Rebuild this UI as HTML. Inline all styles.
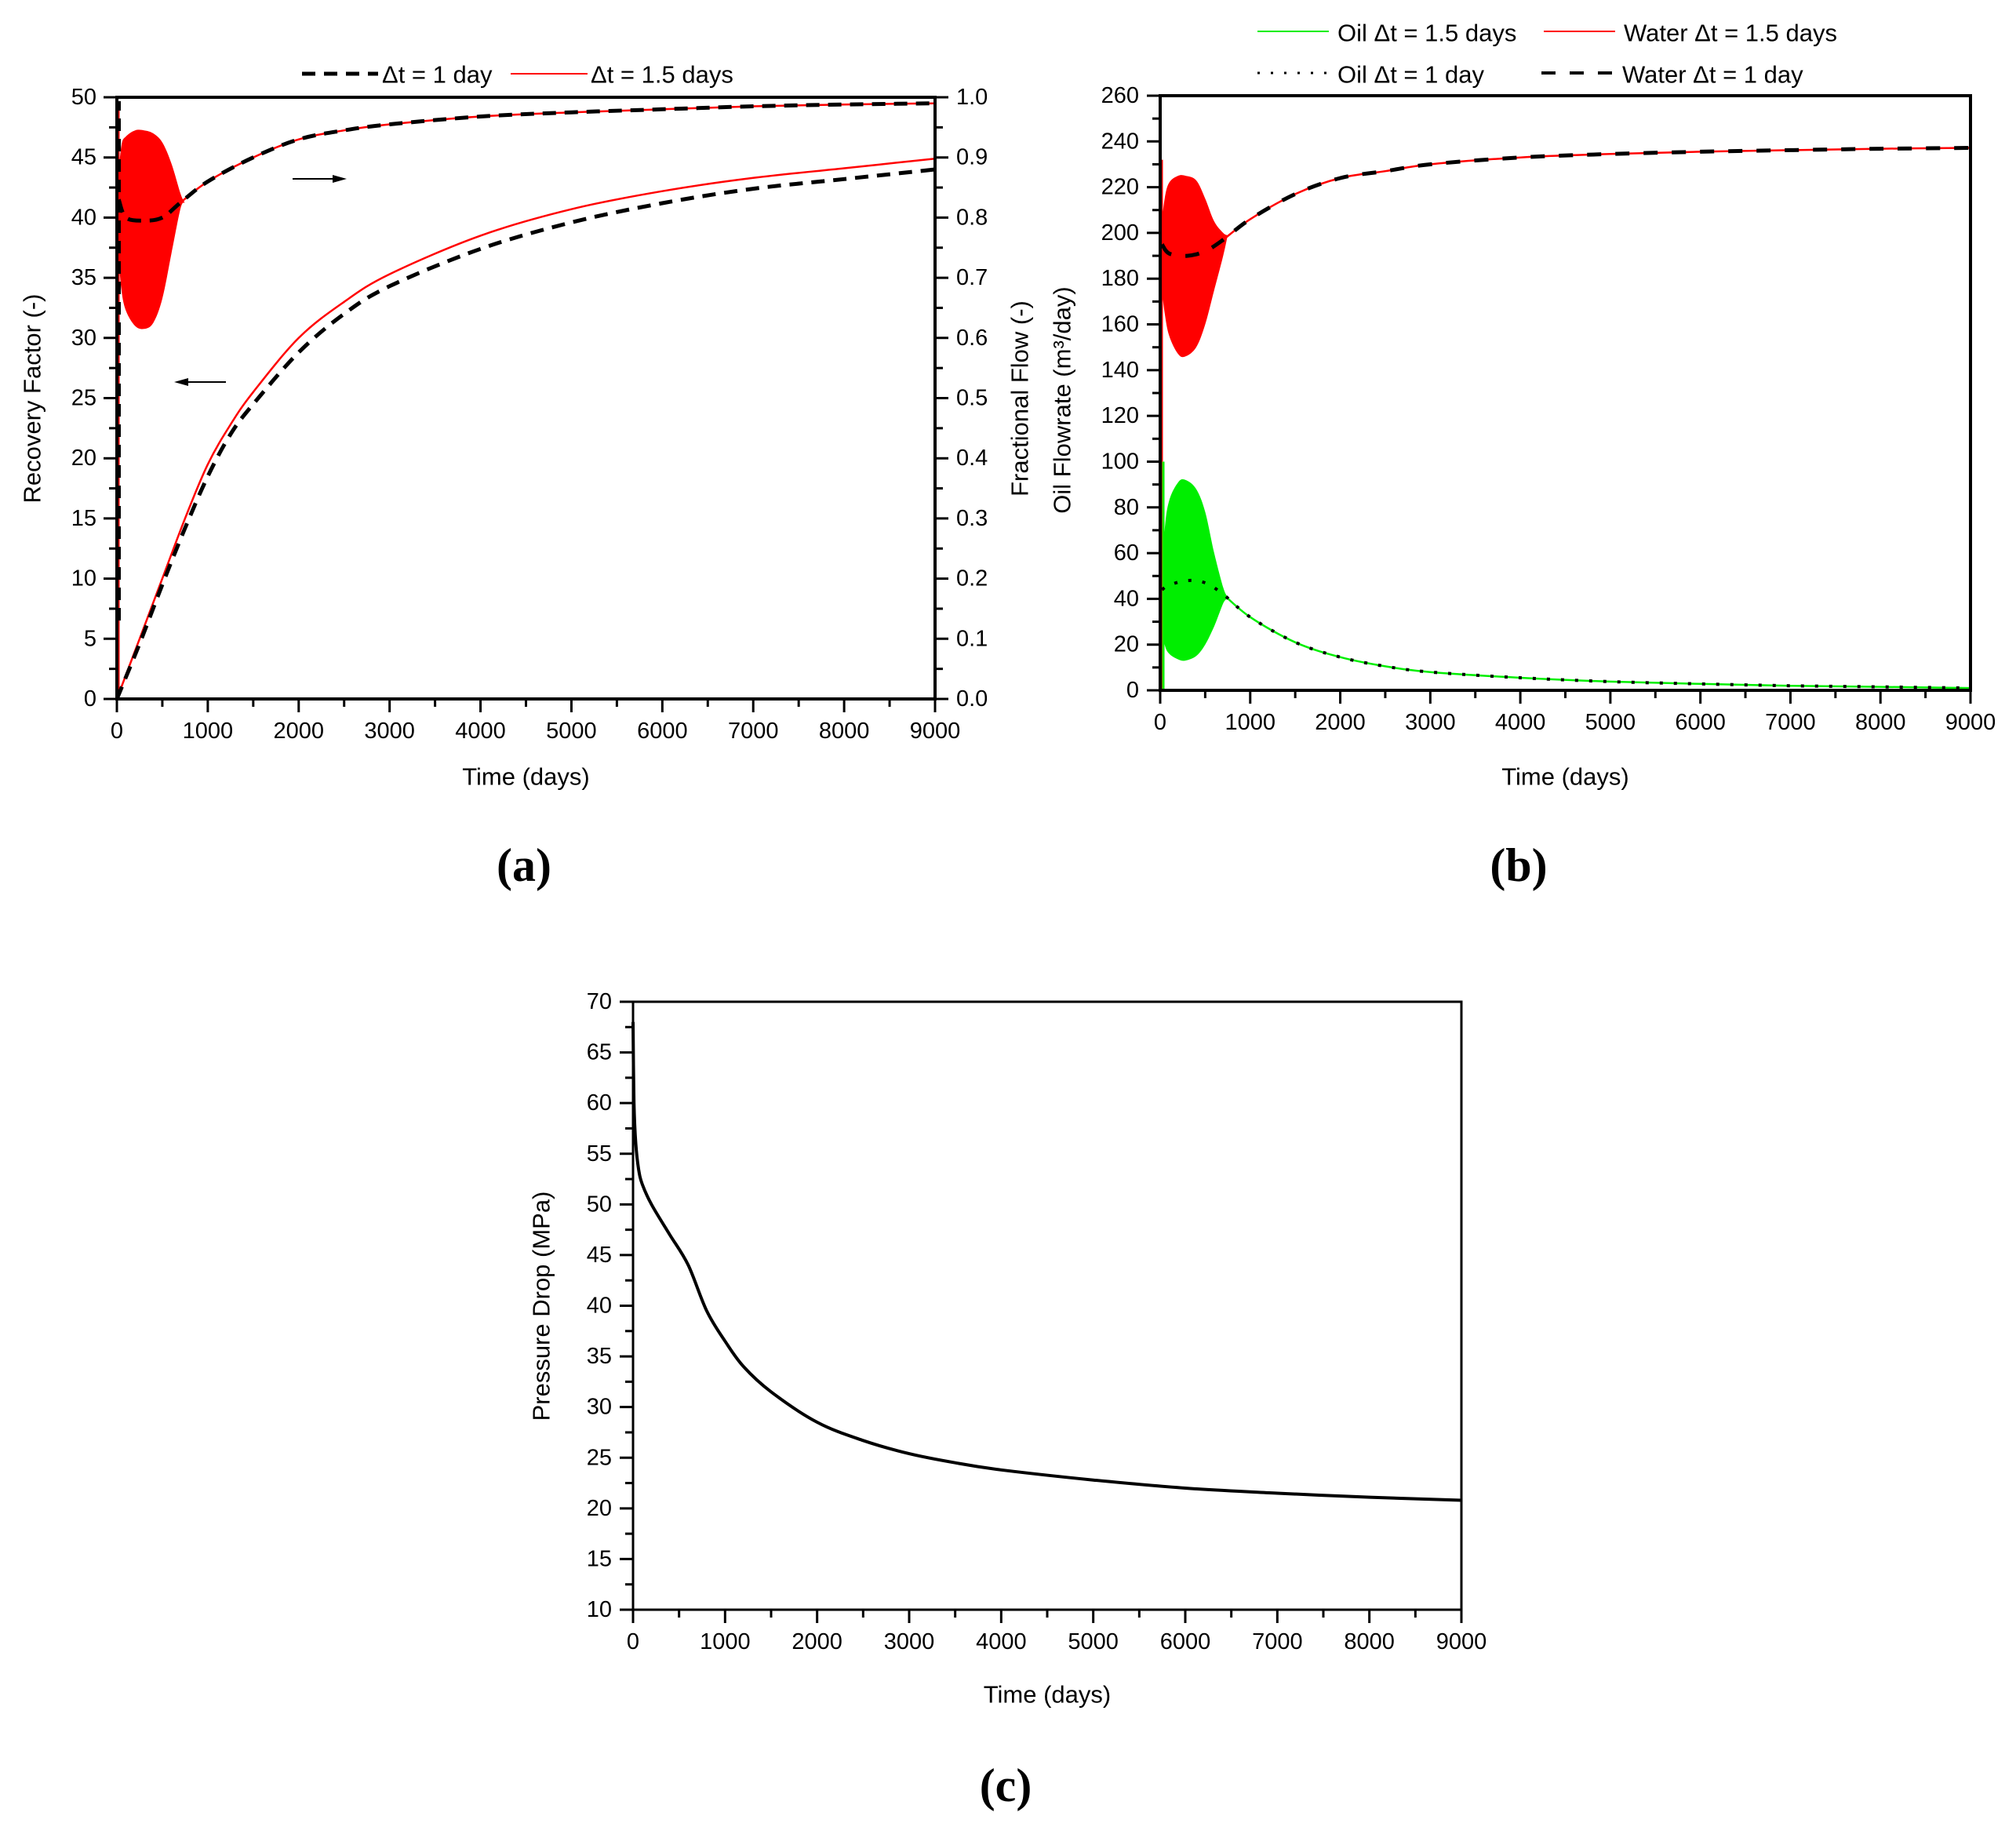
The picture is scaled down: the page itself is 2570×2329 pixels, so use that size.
<!DOCTYPE html>
<html><head><meta charset="utf-8"><style>
html,body{margin:0;padding:0;background:#fff}
svg{display:block}
text{font-family:"Liberation Sans",sans-serif;fill:#000}
text.plabel{font-family:"Liberation Serif",serif;font-weight:bold}
</style></head><body>
<svg id="fig" width="2570" height="2329" viewBox="0 0 2570 2329" xmlns="http://www.w3.org/2000/svg"></svg>
<script>
// ---------- Data ----------
const timeTicks=[0,1000,2000,3000,4000,5000,6000,7000,8000,9000];
// (a) recovery factor
const rfT=[0,250,500,750,1000,1250,1500,2000,2500,3000,4000,5000,6000,7000,8000,9000];
const rfRed=[0,5,10,15,19.5,22.8,25.5,30,33,35.3,38.5,40.7,42.2,43.3,44.1,44.9];
const rfBlack=[0,4.6,9.5,14.2,18.5,22,24.5,28.8,32,34.3,37.4,39.6,41.2,42.4,43.2,44.0];
// (a) fractional flow
const ffT=[0,20,100,300,500,700,1000,1500,2000,2500,3000,4000,5000,6000,7000,8000,9000];
const ffVal=[1.0,0.83,0.80,0.795,0.80,0.825,0.86,0.90,0.93,0.945,0.955,0.968,0.975,0.98,0.985,0.988,0.99];
const ffBlobT=[10,50,100,200,300,400,500,600,700,745];
const ffBlobHi=[0.86,0.92,0.935,0.945,0.945,0.94,0.925,0.89,0.84,0.825];
const ffBlobLo=[0.75,0.68,0.645,0.62,0.615,0.625,0.665,0.74,0.815,0.825];
// (b) water & oil flowrates
const wT=[0,20,100,300,500,700,1000,1500,2000,2500,3000,4000,5000,6000,7000,8000,9000];
const wVal=[232,195,191,190,192,197,206,217,224,227,230,233,234.5,235.5,236.2,236.8,237.2];
const wBlobT=[5,50,100,200,280,400,500,600,700,745];
const wBlobHi=[200,215,222,225,225,223,215,205,200,199];
const wBlobLo=[180,165,155,147,146,150,160,175,190,198];
const oT=[0,20,100,300,500,700,1000,1500,2000,2500,3000,4000,5000,6000,7000,8000,9000];
const oVal=[100,44,46,48,47,42,32,21,14.5,10.5,8,5.5,3.8,2.8,2,1.5,1];
const oBlobT=[5,50,100,200,280,400,500,600,700,745];
const oBlobHi=[40,70,83,91,92,88,78,60,45,41];
const oBlobLo=[30,20,16,13.5,13,15,20,28,38,40];
// (c) pressure drop
const pT=[0,10,30,60,100,200,400,600,800,1000,1200,1500,2000,2500,3000,3500,4000,5000,6000,7000,8000,9000];
const pVal=[68,60,56,53.5,52,50,47,44,39.5,36.5,34,31.5,28.5,26.7,25.4,24.5,23.8,22.8,22,21.5,21.1,20.8];
const aLeftTicks=[0,5,10,15,20,25,30,35,40,45,50];
const aRightTicks=["0.0","0.1","0.2","0.3","0.4","0.5","0.6","0.7","0.8","0.9","1.0"];
const bTicks=[0,20,40,60,80,100,120,140,160,180,200,220,240,260];
const cTicks=[10,15,20,25,30,35,40,45,50,55,60,65,70];

// ---------- Helpers ----------
const NS="http://www.w3.org/2000/svg";
const svg=document.getElementById('fig');
function mk(tag,attrs,parent){const e=document.createElementNS(NS,tag);for(const k in attrs)e.setAttribute(k,attrs[k]);(parent||svg).appendChild(e);return e;}
function txt(s,x,y,size,anchor,parent,extra){const t=mk('text',Object.assign({x:x,y:y,'font-size':size,'text-anchor':anchor||'middle','dominant-baseline':'central'},extra||{}),parent);t.textContent=s;return t;}
function smooth(pts){let d='M'+pts[0][0].toFixed(1)+','+pts[0][1].toFixed(1);
 for(let i=0;i<pts.length-1;i++){const p0=pts[i-1]||pts[i],p1=pts[i],p2=pts[i+1],p3=pts[i+2]||p2;
  const c1=[p1[0]+(p2[0]-p0[0])/6,p1[1]+(p2[1]-p0[1])/6],c2=[p2[0]-(p3[0]-p1[0])/6,p2[1]-(p3[1]-p1[1])/6];
  d+=' C'+c1[0].toFixed(1)+','+c1[1].toFixed(1)+' '+c2[0].toFixed(1)+','+c2[1].toFixed(1)+' '+p2[0].toFixed(1)+','+p2[1].toFixed(1);}
 return d;}
function axes(L,R,T,B,xmax,ymin,ymax){return {x:v=>L+(v/xmax)*(R-L),y:v=>B-(v-ymin)/(ymax-ymin)*(B-T)};}
function pts(ts,vs,ax){return ts.map((t,i)=>[ax.x(t),ax.y(vs[i])]);}
function blob(ts,hi,lo,ax){const up=pts(ts,hi,ax),dn=pts(ts,lo,ax).reverse();
 return smooth(up)+' L'+dn[0][0]+','+dn[0][1]+' '+smooth(dn).slice(1)+' Z';}
function xAxis(g,ax,B,label,labelY){
 timeTicks.forEach(v=>{mk('line',{x1:ax.x(v),x2:ax.x(v),y1:B,y2:B+17,stroke:'#000','stroke-width':3},g);
  if(v<9000)mk('line',{x1:ax.x(v+500),x2:ax.x(v+500),y1:B,y2:B+10,stroke:'#000','stroke-width':3},g);
  const t=txt(String(v),ax.x(v),B+41,29,'middle',g);
  
  });
 const t=txt(label,(ax.x(0)+ax.x(9000))/2,labelY,31,'middle',g);
 }

// ================= Panel (a) =================
(function(){
 const g=mk('g',{});
 const L=149,R=1192,T=124,B=891;
 const ax=axes(L,R,T,B,9000,0,50), ff=axes(L,R,T,B,9000,0,1);
 const bl=mk('path',{d:blob(ffBlobT,ffBlobHi,ffBlobLo,ff),fill:'#ff0000',stroke:'none'},g);
 
 mk('line',{x1:ax.x(0)+2,x2:ax.x(0)+2,y1:B,y2:T+5,stroke:'#ff0000','stroke-width':3,},g);
 mk('line',{x1:ax.x(0)+3,x2:ax.x(0)+3,y1:B-100,y2:T+5,stroke:'#000','stroke-width':4,'stroke-dasharray':'16 10',},g);
 const ffRedT=ffT.filter(t=>t>=700), ffRedV=ffVal.slice(ffT.indexOf(700));
 mk('path',{d:smooth(pts(ffRedT,ffRedV,ff)),fill:'none',stroke:'#ff0000','stroke-width':2.5,},g);
 mk('path',{d:smooth(pts(ffT.slice(1),ffVal.slice(1),ff)),fill:'none',stroke:'#000','stroke-width':5,'stroke-dasharray':'17 11',},g);
 mk('path',{d:smooth(pts(rfT,rfRed,ax)),fill:'none',stroke:'#ff0000','stroke-width':2.5,},g);
 mk('path',{d:smooth(pts(rfT,rfBlack,ax)),fill:'none',stroke:'#000','stroke-width':5,'stroke-dasharray':'17 11',},g);
 mk('rect',{x:L,y:T,width:R-L,height:B-T,fill:'none',stroke:'#000','stroke-width':4,},g);
 aLeftTicks.forEach((v,i)=>{const y=ax.y(v);mk('line',{x1:L-17,x2:L,y1:y,y2:y,stroke:'#000','stroke-width':3},g);
  if(i<aLeftTicks.length-1)mk('line',{x1:L-10,x2:L,y1:ax.y(v+2.5),y2:ax.y(v+2.5),stroke:'#000','stroke-width':3},g);
  const t=txt(String(v),123,y,29,'end',g);});
 aRightTicks.forEach((s,i)=>{const y=ff.y(i/10);mk('line',{x1:R,x2:R+17,y1:y,y2:y,stroke:'#000','stroke-width':3},g);
  if(i<10)mk('line',{x1:R,x2:R+10,y1:ff.y(i/10+0.05),y2:ff.y(i/10+0.05),stroke:'#000','stroke-width':3},g);
  const t=txt(s,1219,y,29,'start',g);});
 xAxis(g,ax,B,'Time (days)',990);
 const yl=txt('Recovery Factor (-)',0,0,31,'middle',g,{transform:'translate(41,508) rotate(-90)'});
 
 const yr=txt('Fractional Flow (-)',0,0,31,'middle',g,{transform:'translate(1300,508) rotate(-90)'});
 
 mk('line',{x1:373,x2:430,y1:228,y2:228,stroke:'#000','stroke-width':2,},g);
 mk('polygon',{points:'442,228 424,223 424,233',fill:'#000'},g);
 mk('line',{x1:232,x2:288,y1:487,y2:487,stroke:'#000','stroke-width':2,},g);
 mk('polygon',{points:'222,487 240,482 240,492',fill:'#000'},g);
 const lg=mk('g',{},g);
 mk('line',{x1:385,x2:482,y1:94,y2:94,stroke:'#000','stroke-width':5,'stroke-dasharray':'17 11'},lg);
 txt('\u0394t = 1 day',487,95,31,'start',lg);
 mk('line',{x1:651,x2:749,y1:94,y2:94,stroke:'#ff0000','stroke-width':2},lg);
 txt('\u0394t = 1.5 days',753,95,31,'start',lg);
 const pl=txt('(a)',668,1103,60,'middle',svg,{'class':'plabel'});
 
})();

// ================= Panel (b) =================
(function(){
 const g=mk('g',{});
 const L=1479,R=2512,T=122,B=880;
 const ax=axes(L,R,T,B,9000,0,260);
 const b1=mk('path',{d:blob(wBlobT,wBlobHi,wBlobLo,ax),fill:'#ff0000'},g);
 
 const b2=mk('path',{d:blob(oBlobT,oBlobHi,oBlobLo,ax),fill:'#00ee00'},g);
 
 mk('line',{x1:L+2,x2:L+2,y1:ax.y(0),y2:ax.y(232),stroke:'#ff0000','stroke-width':3},g);
 mk('line',{x1:L+4,x2:L+4,y1:ax.y(0),y2:ax.y(100),stroke:'#00ee00','stroke-width':3},g);
 const i7=wT.indexOf(700);
 mk('path',{d:smooth(pts(wT.slice(i7),wVal.slice(i7),ax)),fill:'none',stroke:'#ff0000','stroke-width':2.5,},g);
 mk('path',{d:smooth(pts(oT.slice(i7),oVal.slice(i7),ax)),fill:'none',stroke:'#00ee00','stroke-width':2.5,},g);
 mk('path',{d:smooth(pts(wT.slice(1),wVal.slice(1),ax)),fill:'none',stroke:'#000','stroke-width':5,'stroke-dasharray':'18 18',},g);
 mk('path',{d:smooth(pts(oT.slice(1),oVal.slice(1),ax)),fill:'none',stroke:'#000','stroke-width':4,'stroke-dasharray':'4 14',},g);
 mk('rect',{x:L,y:T,width:R-L,height:B-T,fill:'none',stroke:'#000','stroke-width':4,},g);
 bTicks.forEach((v,i)=>{const y=ax.y(v);mk('line',{x1:L-17,x2:L,y1:y,y2:y,stroke:'#000','stroke-width':3},g);
  if(i<bTicks.length-1)mk('line',{x1:L-10,x2:L,y1:ax.y(v+10),y2:ax.y(v+10),stroke:'#000','stroke-width':3},g);
  const t=txt(String(v),1452,y,29,'end',g);});
 xAxis(g,ax,B,'Time (days)',990);
 const yl=txt('Oil Flowrate (m\u00B3/day)',0,0,31,'middle',g,{transform:'translate(1354,510) rotate(-90)'});
 
 const lg=mk('g',{},g);
 mk('line',{x1:1603,x2:1694,y1:40,y2:40,stroke:'#00ee00','stroke-width':2},lg);
 txt('Oil  \u0394t = 1.5 days',1705,42,31,'start',lg,{'xml:space':'preserve'});
 mk('line',{x1:1968,x2:2059,y1:40,y2:40,stroke:'#ff0000','stroke-width':2},lg);
 txt('Water  \u0394t = 1.5 days',2070,42,31,'start',lg,{'xml:space':'preserve'});
 mk('line',{x1:1603,x2:1696,y1:93,y2:93,stroke:'#000','stroke-width':3,'stroke-dasharray':'3 14'},lg);
 txt('Oil  \u0394t = 1 day',1705,95,31,'start',lg,{'xml:space':'preserve'});
 mk('line',{x1:1965,x2:2060,y1:93,y2:93,stroke:'#000','stroke-width':4,'stroke-dasharray':'18 18'},lg);
 txt('Water  \u0394t = 1 day',2068,95,31,'start',lg,{'xml:space':'preserve'});
 const pl=txt('(b)',1936,1103,60,'middle',svg,{'class':'plabel'});
 
})();

// ================= Panel (c) =================
(function(){
 const g=mk('g',{});
 const L=807,R=1863,T=1277,B=2052;
 const ax=axes(L,R,T,B,9000,10,70);
 mk('path',{d:smooth(pts(pT,pVal,ax)),fill:'none',stroke:'#000','stroke-width':4,},g);
 mk('rect',{x:L,y:T,width:R-L,height:B-T,fill:'none',stroke:'#000','stroke-width':3,},g);
 cTicks.forEach((v,i)=>{const y=ax.y(v);mk('line',{x1:L-17,x2:L,y1:y,y2:y,stroke:'#000','stroke-width':3},g);
  if(i<cTicks.length-1)mk('line',{x1:L-10,x2:L,y1:ax.y(v+2.5),y2:ax.y(v+2.5),stroke:'#000','stroke-width':3},g);
  const t=txt(String(v),780,y,29,'end',g);});
 xAxis(g,ax,B,'Time (days)',2160);
 const yl=txt('Pressure Drop (MPa)',0,0,31,'middle',g,{transform:'translate(690,1665) rotate(-90)'});
 
 const pl=txt('(c)',1282,2276,60,'middle',svg,{'class':'plabel'});
 
})();
</script>
</body></html>
